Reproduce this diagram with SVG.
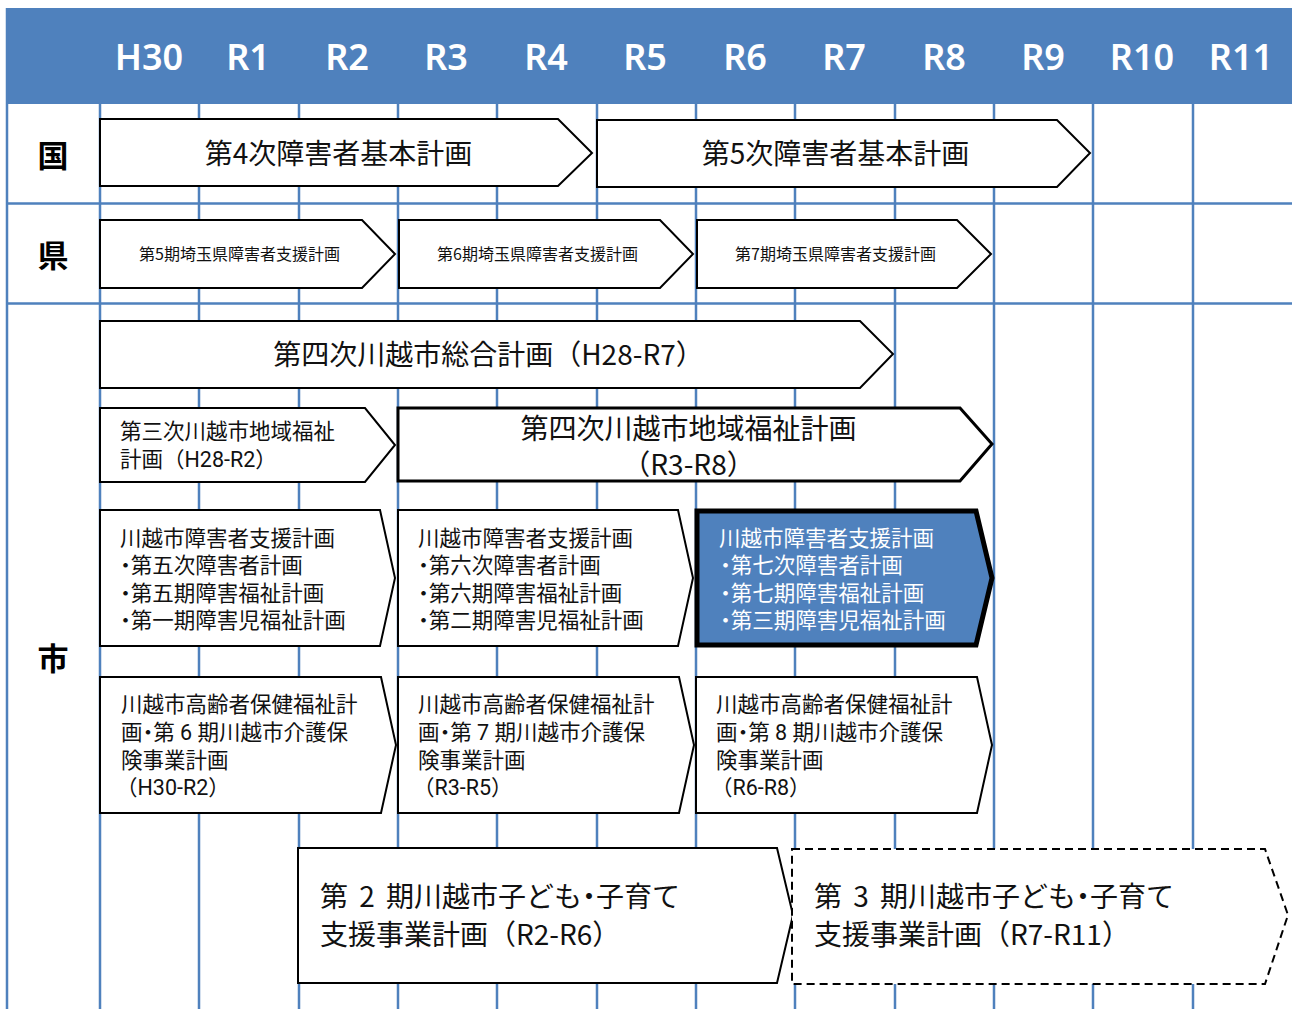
<svg xmlns="http://www.w3.org/2000/svg" width="1292" height="1009" viewBox="0 0 1292 1009">
<style>
.grid{stroke:#4F81BD;stroke-width:2.5;fill:none}
.hdr{font-family:"Noto Sans","Liberation Sans",sans-serif;font-size:36px;font-weight:600;fill:#FFFFFF;text-anchor:middle}
.row{font-family:"Noto Sans CJK JP",sans-serif;font-size:31px;font-weight:bold;fill:#000;text-anchor:middle}
.arr{fill:#FFFFFF;stroke:#000;stroke-width:2;stroke-linejoin:miter}
.L{font-family:"Noto Sans CJK JP",sans-serif;font-size:28px;fill:#111}
.M{font-family:Roboto,"Noto Sans CJK JP",sans-serif;font-size:21.5px;fill:#111}
.S{font-family:"Noto Sans CJK JP",sans-serif;font-size:16px;fill:#111;text-anchor:middle}
.h{font-feature-settings:"halt"}
.c{text-anchor:middle}
.w{fill:#FFFFFF}
.ws{word-spacing:5px}
</style>
<rect x="0" y="0" width="1292" height="1009" fill="#FFFFFF"/>
<g id="grid">
<rect x="7" y="8" width="1285" height="96" fill="#4F81BD"/>
<path class="grid" d="M7,8 V1009 M100,103 V1009 M199,103 V1009 M299,103 V1009 M398,103 V1009 M497,103 V1009 M597,103 V1009 M696,103 V1009 M795,103 V1009 M895,103 V1009 M994,103 V1009 M1093,103 V1009 M1193,103 V1009 M7,203.5 H1292 M7,303.5 H1292"/>
</g>
<g id="header">
<text class="hdr" x="149" y="70">H30</text>
<text class="hdr" x="248" y="70">R1</text>
<text class="hdr" x="347" y="70">R2</text>
<text class="hdr" x="446" y="70">R3</text>
<text class="hdr" x="546" y="70">R4</text>
<text class="hdr" x="645" y="70">R5</text>
<text class="hdr" x="745" y="70">R6</text>
<text class="hdr" x="844" y="70">R7</text>
<text class="hdr" x="944" y="70">R8</text>
<text class="hdr" x="1043" y="70">R9</text>
<text class="hdr" x="1142" y="70">R10</text>
<text class="hdr" x="1241" y="70">R11</text>
</g>
<g id="rowlabels">
<text class="row" x="53" y="166.5">国</text>
<text class="row" x="53" y="266.5">県</text>
<text class="row" x="53" y="669.5">市</text>
</g>
<g id="connectors"></g>
<g id="kuni4">
<path class="arr" d="M100,119 H558 L592,153 L558,186 H100 Z"/>
<text class="L c" x="338.5" y="163.6">第4次障害者基本計画</text>
</g>
<g id="kuni5">
<path class="arr" d="M597,120 H1057 L1090,153 L1057,187 H597 Z"/>
<text class="L c" x="835.5" y="163.6">第5次障害者基本計画</text>
</g>
<g id="ken5">
<path class="arr" d="M100,220 H362 L395,254 L362,288 H100 Z"/>
<text class="S" x="239.5" y="260">第5期埼玉県障害者支援計画</text>
</g>
<g id="ken6">
<path class="arr" d="M399,220 H660 L693,254 L660,288 H399 Z"/>
<text class="S" x="537.5" y="260">第6期埼玉県障害者支援計画</text>
</g>
<g id="ken7">
<path class="arr" d="M697,220 H957 L991,254 L957,288 H697 Z"/>
<text class="S" x="835.5" y="260">第7期埼玉県障害者支援計画</text>
</g>
<g id="sogo4">
<path class="arr" d="M100,321 H860 L893,354 L860,388 H100 Z"/>
<text class="L c" x="488.5" y="364.6">第四次川越市総合計画（H28-R7）</text>
</g>
<g id="fukushi3">
<path class="arr" d="M100,408 H365 L395,445 L365,482 H100 Z"/>
<text class="M"><tspan x="120" y="439.2">第三次川越市地域福祉</tspan><tspan x="120" y="467.2">計画（H28-R2）</tspan></text>
</g>
<g id="fukushi4">
<path class="arr" style="stroke-width:3" d="M398,408 H960 L992,444 L960,481 H398 Z"/>
<text class="L c"><tspan x="688.5" y="438.6">第四次川越市地域福祉計画</tspan><tspan x="688.5" y="475">（R3-R8）</tspan></text>
</g>
<g id="shogai5">
<path class="arr" d="M100,510 H380 L395,578 L380,646 H100 Z"/>
<text class="M h"><tspan x="120" y="545.7">川越市障害者支援計画</tspan><tspan x="120" y="573.2">・第五次障害者計画</tspan><tspan x="120" y="600.7">・第五期障害福祉計画</tspan><tspan x="120" y="628.2">・第一期障害児福祉計画</tspan></text>
</g>
<g id="shogai6">
<path class="arr" d="M398,510 H678 L693,578 L678,646 H398 Z"/>
<text class="M h"><tspan x="418" y="545.7">川越市障害者支援計画</tspan><tspan x="418" y="573.2">・第六次障害者計画</tspan><tspan x="418" y="600.7">・第六期障害福祉計画</tspan><tspan x="418" y="628.2">・第二期障害児福祉計画</tspan></text>
</g>
<g id="shogai7">
<path d="M697,511 H976 L992,578 L976,645 H697 Z" fill="#4F81BD" stroke="#000" stroke-width="5" stroke-linejoin="miter"/>
<text class="M w h"><tspan x="719" y="545.7">川越市障害者支援計画</tspan><tspan x="720" y="573.2">・第七次障害者計画</tspan><tspan x="720" y="600.7">・第七期障害福祉計画</tspan><tspan x="720" y="628.2">・第三期障害児福祉計画</tspan></text>
</g>
<g id="korei6">
<path class="arr" d="M100,677 H381 L396,745 L381,813 H100 Z"/>
<text class="M"><tspan x="121" y="712.2">川越市高齢者保健福祉計</tspan><tspan class="h" x="121" y="740.2">画・第 6 期川越市介護保</tspan><tspan x="121" y="767.7">険事業計画</tspan><tspan x="116" y="795.2">（H30-R2）</tspan></text>
</g>
<g id="korei7">
<path class="arr" d="M398,677 H679 L694,745 L679,813 H398 Z"/>
<text class="M"><tspan x="418" y="712.2">川越市高齢者保健福祉計</tspan><tspan class="h" x="418" y="740.2">画・第 7 期川越市介護保</tspan><tspan x="418" y="767.7">険事業計画</tspan><tspan x="413" y="795.2">（R3-R5）</tspan></text>
</g>
<g id="korei8">
<path class="arr" d="M696,677 H977 L992,745 L977,813 H696 Z"/>
<text class="M"><tspan x="716" y="712.2">川越市高齢者保健福祉計</tspan><tspan class="h" x="716" y="740.2">画・第 8 期川越市介護保</tspan><tspan x="716" y="767.7">険事業計画</tspan><tspan x="711" y="795.2">（R6-R8）</tspan></text>
</g>
<g id="kodomo2">
<path class="arr" d="M298,848 H777 L793,915 L777,983 H298 Z"/>
<text class="L"><tspan class="h ws" x="320" y="906.6">第 2 期川越市子ども・子育て</tspan><tspan x="320" y="944.6">支援事業計画（R2-R6）</tspan></text>
</g>
<g id="kodomo3">
<path class="arr" style="stroke-dasharray:8 5" d="M792,849 H1265 L1288,915 L1265,984 H792 Z"/>
<text class="L"><tspan class="h ws" x="814" y="906.6">第 3 期川越市子ども・子育て</tspan><tspan x="814" y="944.6">支援事業計画（R7-R11）</tspan></text>
</g>
</svg>
